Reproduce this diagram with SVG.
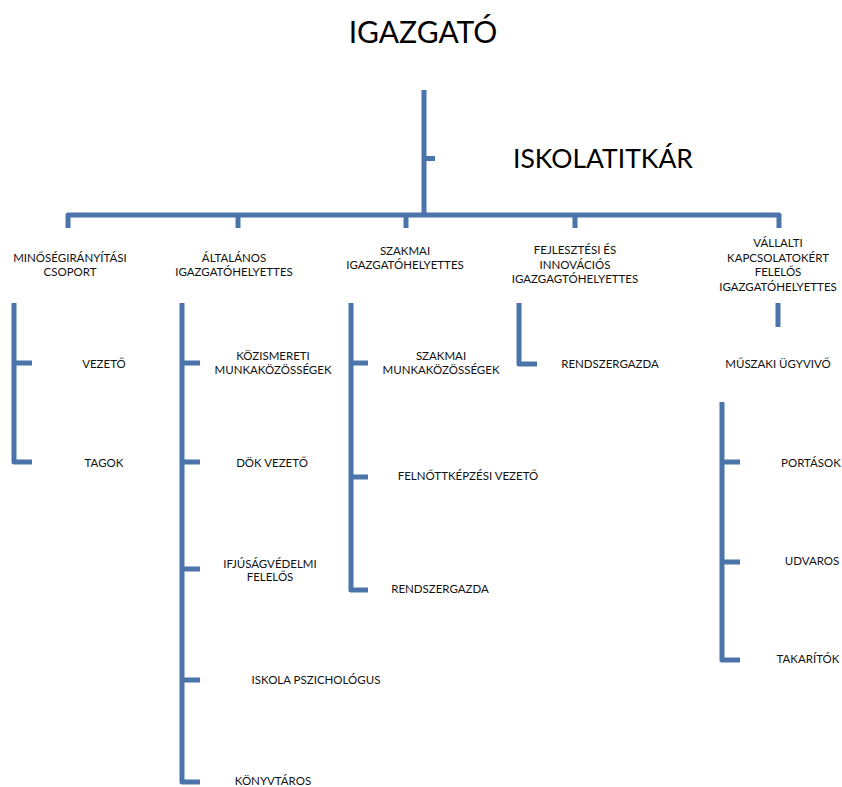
<svg xmlns="http://www.w3.org/2000/svg" width="842" height="787" viewBox="0 0 842 787">
<style>
.ln{fill:none;stroke:#4a74aa;stroke-width:5;stroke-linejoin:round;stroke-linecap:butt}
.big{font-family:Lato,"Open Sans",sans-serif;font-size:30px;fill:#000}
.mid{font-family:Lato,"Open Sans",sans-serif;font-size:26.5px;fill:#000}
.sm{font-family:Lato,"Open Sans",sans-serif;font-size:11.5px;fill:#111;text-anchor:middle}
</style>
<rect width="842" height="787" fill="#fff"/>
<g id="connectors" class="ln">
<path d="M424,90 V215"/>
<path d="M424,158.5 H435"/>
<path d="M68,228 V215 H779 V228"/>
<path d="M238,215 V228 M406,215 V228 M575,215 V228"/>
<path d="M14,303 V462 H32 M14,363 H32"/>
<path d="M182,303 V782 H200 M182,363 H200 M182,462 H200 M182,569 H200 M182,680 H200"/>
<path d="M351,303 V590 H368 M351,363 H368 M351,477 H368"/>
<path d="M519,303 V364 H537"/>
<path d="M778,303 V327"/>
<path d="M722,402 V660 H740 M722,462 H740 M722,562 H740"/>
</g>
<g id="igazgato"><text class="big" x="423" y="43" text-anchor="middle">IGAZGATÓ</text></g>
<g id="iskolatitkar"><text class="mid" x="513" y="168">ISKOLATITKÁR</text></g>
<g id="minosegiranyitasi"><text class="sm" x="70" y="262">MINŐSÉGIRÁNYÍTÁSI</text><text class="sm" x="70" y="276">CSOPORT</text></g>
<g id="altalanos"><text class="sm" x="234" y="262">ÁLTALÁNOS</text><text class="sm" x="234" y="276">IGAZGATÓHELYETTES</text></g>
<g id="szakmai"><text class="sm" x="405" y="255">SZAKMAI</text><text class="sm" x="405" y="269">IGAZGATÓHELYETTES</text></g>
<g id="fejlesztesi"><text class="sm" x="575" y="254">FEJLESZTÉSI ÉS</text><text class="sm" x="575" y="268.5">INNOVÁCIÓS</text><text class="sm" x="575" y="283">IGAZGAGTÓHELYETTES</text></g>
<g id="vallalti"><text class="sm" x="778" y="247">VÁLLALTI</text><text class="sm" x="778" y="261.5">KAPCSOLATOKÉRT</text><text class="sm" x="778" y="276">FELELŐS</text><text class="sm" x="778" y="290.5">IGAZGATÓHELYETTES</text></g>
<g id="vezeto"><text class="sm" x="104" y="368">VEZETŐ</text></g>
<g id="tagok"><text class="sm" x="104" y="467">TAGOK</text></g>
<g id="kozismereti"><text class="sm" x="273" y="360">KÖZISMERETI</text><text class="sm" x="273" y="374">MUNKAKÖZÖSSÉGEK</text></g>
<g id="dok"><text class="sm" x="272" y="467">DÖK VEZETŐ</text></g>
<g id="ifjusagvedelmi"><text class="sm" x="270" y="568">IFJÚSÁGVÉDELMI</text><text class="sm" x="270" y="581">FELELŐS</text></g>
<g id="pszichologus"><text class="sm" x="316" y="684">ISKOLA PSZICHOLÓGUS</text></g>
<g id="konyvtaros"><text class="sm" x="273" y="785">KÖNYVTÁROS</text></g>
<g id="szakmai-mk"><text class="sm" x="441" y="360">SZAKMAI</text><text class="sm" x="441" y="374">MUNKAKÖZÖSSÉGEK</text></g>
<g id="felnottkepzesi"><text class="sm" x="468" y="480">FELNŐTTKÉPZÉSI VEZETŐ</text></g>
<g id="rendszergazda1"><text class="sm" x="440" y="593">RENDSZERGAZDA</text></g>
<g id="rendszergazda2"><text class="sm" x="610" y="368">RENDSZERGAZDA</text></g>
<g id="muszaki"><text class="sm" x="778" y="368">MŰSZAKI ÜGYVIVŐ</text></g>
<g id="portasok"><text class="sm" x="811" y="467">PORTÁSOK</text></g>
<g id="udvaros"><text class="sm" x="812" y="565">UDVAROS</text></g>
<g id="takaritok"><text class="sm" x="808" y="663">TAKARÍTÓK</text></g>
</svg>
